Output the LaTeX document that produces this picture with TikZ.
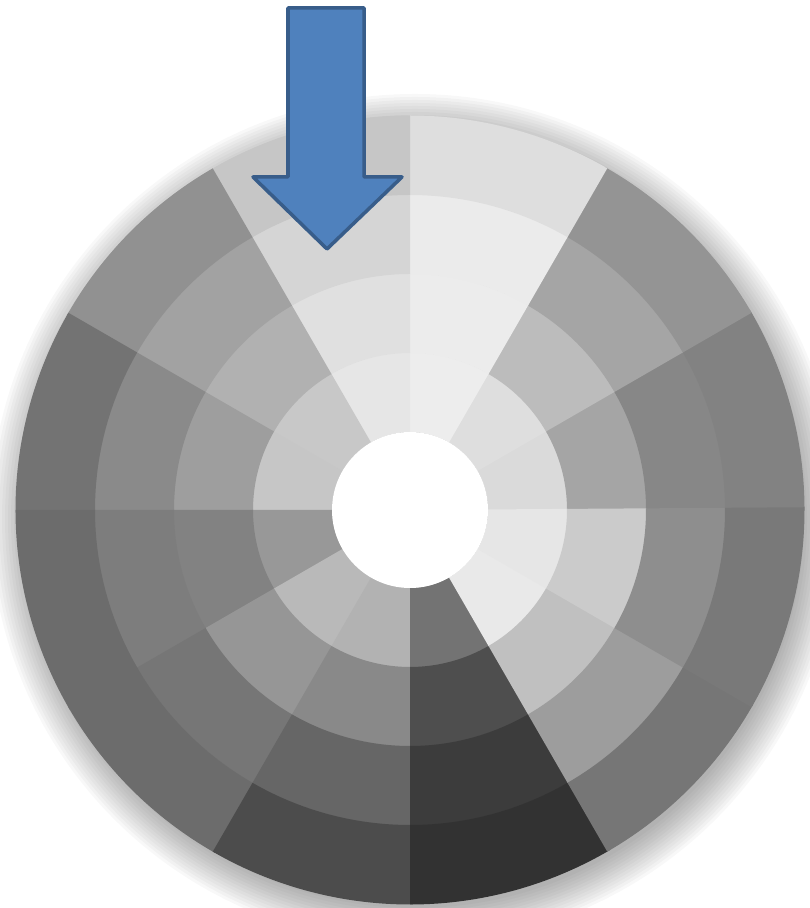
\documentclass[tikz,border=0pt]{standalone}
\usetikzlibrary{calc}
\definecolor{arrowblue}{RGB}{79,129,189}
\definecolor{arrowedge}{RGB}{56,93,138}
\definecolor{cellgray}{RGB}{128,128,128}

\begin{document}
\begin{tikzpicture}[
  x=0.02cm,
  y=0.02cm,
  cell/.style={fill=cellgray},
  halo/.style={fill=black,opacity=.028},
  pointer/.style={
    fill=arrowblue,
    draw=arrowedge,
    line width=2pt,
    line join=round
  }
]
\useasboundingbox (0,0) rectangle (809,908);
\coordinate (hub) at (410,398);

% soft shadow round the wheel
\foreach \r in {-6,-3,...,30}
  \fill[halo] ($(hub)+(5,-9)$) circle[radius=395+\r];

% sectors: start angle / rings from inside out
\begin{scope}[shift={(hub)}]
\foreach \a/\ga/\gb/\gc/\gd in {
    0/218/165/135/130,  30/222/188/165/148,  60/237/236/235/222,
   90/230/224/213/198, 120/200/177/162/145, 150/198/158/138/115,
  180/152/130/125/108, 210/185/150/118/108, 240/178/137/102/76,
  270/115/78/60/50,   300/233/192/157/118, 330/230/203/142/121}{
  \foreach \i/\g in {0/\ga,1/\gb,2/\gc,3/\gd}{
    \pgfmathsetmacro\ri{78+79*\i}
    \pgfmathsetmacro\ro{\ri+79.5}
    \definecolor{cellgray}{RGB}{\g,\g,\g}
    \fill[cell] (\a:\ri) arc[start angle=\a,end angle=\a+30.4,radius=\ri]
      -- (\a+30.4:\ro) arc[start angle=\a+30.4,end angle=\a,radius=\ro]
      -- cycle;
  }
}
\end{scope}

\fill[white] (hub) circle[radius=78];

% the arrow
\draw[pointer] (288,900) -- (364,900) -- (364,731) -- (402,731)
  -- (327,659) -- (253,731) -- (288,731) -- cycle;
\end{tikzpicture}
\end{document}
